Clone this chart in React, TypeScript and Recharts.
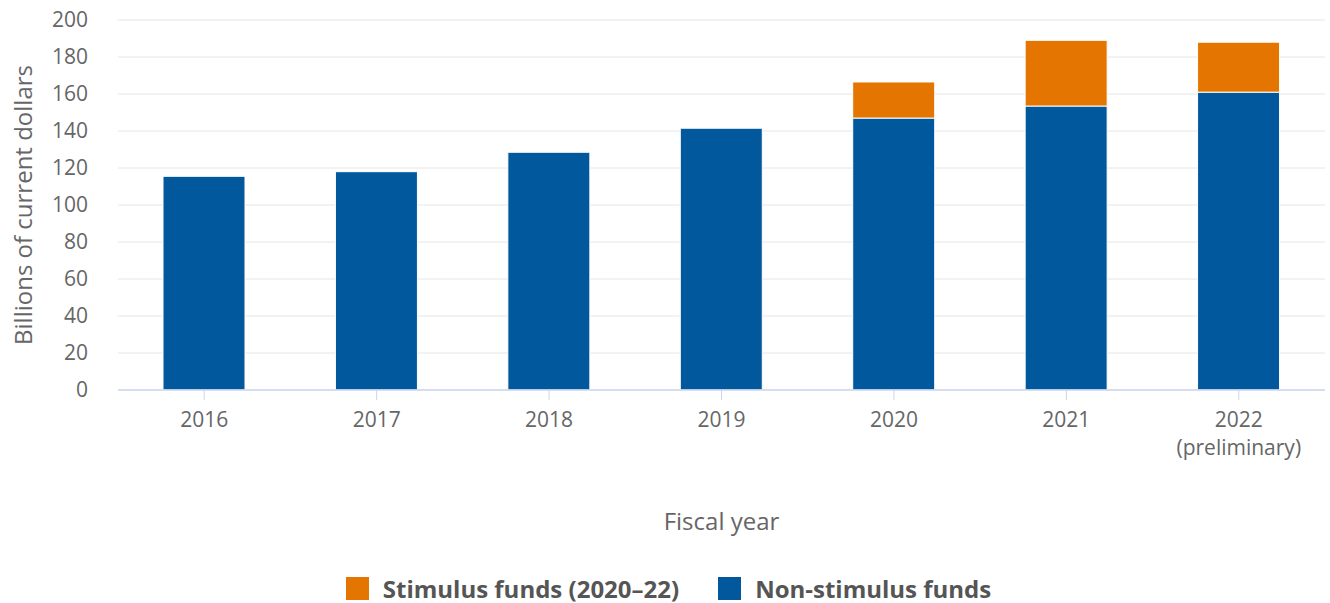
import { BarChart, Bar, XAxis, YAxis, CartesianGrid, Legend } from 'recharts'

const years = ['2016', '2017', '2018', '2019', '2020', '2021', '2022 (preliminary)']
const nonStimulus = [115.5, 118, 128.5, 141.5, 147, 153.5, 161]
const stimulus = [0, 0, 0, 0, 19.5, 35.5, 27]
const yTicks = [0, 20, 40, 60, 80, 100, 120, 140, 160, 180, 200]

const ORANGE = '#e37500'
const BLUE = '#02589c'
const TEXT = '#666666'
const FONT = '"Open Sans", sans-serif'

const data = years.map((year, i) => ({
  year,
  nonStimulus: nonStimulus[i],
  stimulus: stimulus[i],
}))

function YearTick({ x, y, payload }: any) {
  const parts = String(payload.value).split(' ')
  return (
    <text x={x} y={y} textAnchor="middle" fill={TEXT} fontSize={21} fontFamily={FONT}>
      {parts.map((p, i) => (
        <tspan key={i} x={x} dy={i === 0 ? 27 : 28}>{p}</tspan>
      ))}
    </text>
  )
}

function YTitle({ viewBox }: any) {
  const cy = viewBox.y + viewBox.height / 2
  return (
    <text x={32} y={cy} transform={`rotate(-90, 32, ${cy})`} textAnchor="middle" fill={TEXT} fontSize={24} fontFamily={FONT}>
      Billions of current dollars
    </text>
  )
}

function LegendBox() {
  const items = [
    { label: 'Stimulus funds (2020–22)', color: ORANGE },
    { label: 'Non-stimulus funds', color: BLUE },
  ]
  return (
    <div style={{ display: 'flex', justifyContent: 'center', alignItems: 'center', height: 30, paddingLeft: 12, fontFamily: FONT }}>
      {items.map((it, i) => (
        <div key={it.label} style={{ display: 'flex', alignItems: 'center', marginLeft: i ? 39 : 0 }}>
          <span style={{ width: 23, height: 23, background: it.color, display: 'inline-block', marginRight: 14 }} />
          <span style={{ fontWeight: 700, fontSize: 24, color: '#555555' }}>{it.label}</span>
        </div>
      ))}
    </div>
  )
}

export default function App() {
  return (
    <div style={{ position: 'absolute', left: 0, top: 0, background: '#fff' }}>
      <BarChart width={1330} height={603} data={data} margin={{ top: 20, right: 5, left: 0, bottom: 0 }} barSize={82}>
        <CartesianGrid vertical={false} stroke="#e6e6e6" />
        <XAxis
          dataKey="year"
          height={183}
          tick={<YearTick />}
          tickSize={10}
          tickMargin={0}
          stroke="#ccd6eb"
          tickLine={{ stroke: '#ccd6eb' }}
          axisLine={{ stroke: '#ccd6eb', strokeWidth: 1.5 }}
          interval={0}
          label={{ value: 'Fiscal year', position: 'insideBottom', offset: 43, fill: TEXT, fontSize: 24, fontFamily: FONT }}
        />
        <YAxis
          width={118}
          domain={[0, 200]}
          ticks={yTicks}
          tickSize={0}
          tickMargin={30}
          axisLine={false}
          tickLine={false}
          tick={{ fill: TEXT, fontSize: 21, fontFamily: FONT }}
          label={<YTitle />}
        />
        <Legend verticalAlign="bottom" height={30} content={<LegendBox />} />
        <Bar dataKey="nonStimulus" stackId="a" fill={BLUE} stroke="#ffffff" strokeWidth={1} isAnimationActive={false} />
        <Bar dataKey="stimulus" stackId="a" fill={ORANGE} stroke="#ffffff" strokeWidth={1} isAnimationActive={false} />
      </BarChart>
    </div>
  )
}
